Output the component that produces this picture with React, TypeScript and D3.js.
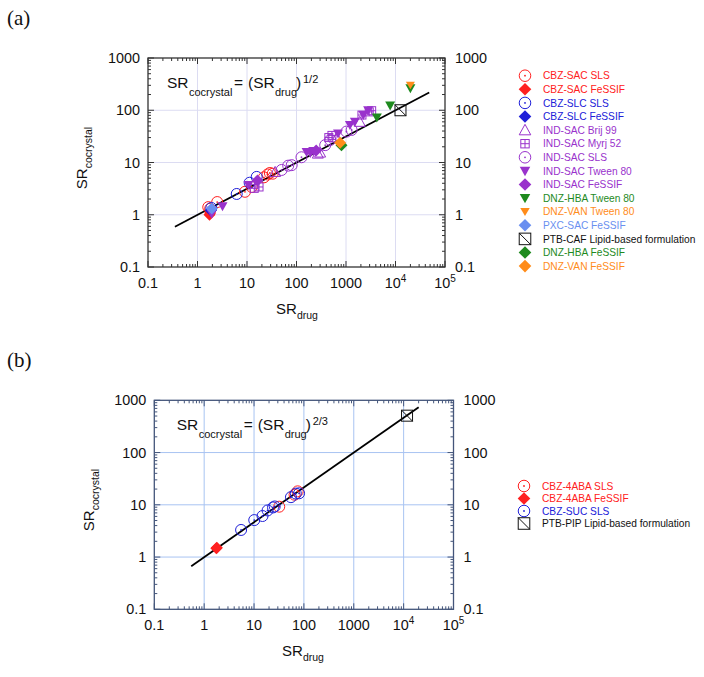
import React from 'react';
import * as d3 from 'd3';

type Pt = [number, number];

// ---------- Panel (a) data ----------
const cbzSacSlsA: Pt[] = [[1.65, 1.4], [1.8, 1.3], [2.5, 1.75], [9.1, 2.75], [12.5, 3.4], [22, 5.2], [26, 5.9], [29, 6.3], [33, 6.1]];
const cbzSacFessifA: Pt[] = [[1.75, 1.0], [1.8, 1.08]];
const cbzSlcSlsA: Pt[] = [[6.2, 2.5], [11.3, 4.1], [15.7, 5.3], [1.9, 1.35]];
const cbzSlcFessifA: Pt[] = [[1.85, 1.2]];
const indSacBrijA: Pt[] = [[37, 6.6], [270, 14.8], [300, 15.5], [650, 30], [1900, 60]];
const indSacMyrjA: Pt[] = [[14, 3.2], [17.5, 3.4], [450, 30], [520, 33], [2100, 81], [2950, 93], [3300, 98]];
const indSacSlsA: Pt[] = [[50, 7.2], [68, 8.7], [80, 8.9], [126, 12.6], [380, 21.5], [480, 27], [1020, 39], [1300, 42]];
const indSacTweenA: Pt[] = [[1.94, 1.05], [3.2, 1.46], [10.7, 3.7], [160, 15.8], [190, 15.2], [218, 16.6], [690, 36], [1200, 52], [1510, 60], [2240, 81], [2800, 100]];
const indSacFessifA: Pt[] = [[16.3, 4.5], [250, 17]];
const dnzHbaTweenA: Pt[] = [[4200, 73], [7800, 123], [20000, 263]];
const dnzVanTweenA: Pt[] = [[20000, 300]];
const pxcSacFessifA: Pt[] = [[1.94, 1.32]];
const ptbCafA: Pt[] = [[12600, 100]];
const dnzHbaFessifA: Pt[] = [[810, 21.5]];
const dnzVanFessifA: Pt[] = [[760, 24]];
const fitA: Pt[] = [[0.35, 0.59], [48000, 219]];

// ---------- Panel (b) data ----------
const cbz4abaSlsB: Pt[] = [[32, 9.2], [65, 15.6], [75, 18.1]];
const cbz4abaFessifB: Pt[] = [[1.75, 1.48], [1.8, 1.5]];
const cbzSucSlsB: Pt[] = [[5.5, 3.3], [10.1, 5.1], [14.8, 6.1], [18.7, 7.8], [24, 8.9], [26, 9.3], [55, 14], [69, 16.4], [80, 16.6]];
const ptbPipB: Pt[] = [[11700, 508]];
const fitB: Pt[] = [[0.55, 0.67], [20000, 737]];

// ---------- ticks ----------
const xTickValues = [0.1, 1, 10, 100, 1000, 1e4, 1e5];
const xTickLabels = ['0.1', '1', '10', '100', '1000', '10^4', '10^5'];
const yTickValues = [0.1, 1, 10, 100, 1000];
const yTickLabels = ['0.1', '1', '10', '100', '1000'];

const RED = '#ff2020';
const BLUE = '#2020d8';
const PURPLE = '#9932cc';
const GREEN = '#1e8a1e';
const ORANGE = '#ff8c1a';
const LBLUE = '#6a8ff0';
const BLACK = '#111';

type Series = { name: string; color: string; sym: string; pts: Pt[] };

const seriesA: Series[] = [
  { name: 'CBZ-SAC SLS', color: RED, sym: 'circ', pts: cbzSacSlsA },
  { name: 'CBZ-SAC FeSSIF', color: RED, sym: 'diam', pts: cbzSacFessifA },
  { name: 'CBZ-SLC SLS', color: BLUE, sym: 'circ', pts: cbzSlcSlsA },
  { name: 'CBZ-SLC FeSSIF', color: BLUE, sym: 'diam', pts: cbzSlcFessifA },
  { name: 'IND-SAC Brij 99', color: PURPLE, sym: 'tup', pts: indSacBrijA },
  { name: 'IND-SAC Myrj 52', color: PURPLE, sym: 'sqplus', pts: indSacMyrjA },
  { name: 'IND-SAC SLS', color: PURPLE, sym: 'circ', pts: indSacSlsA },
  { name: 'IND-SAC Tween 80', color: PURPLE, sym: 'tdown', pts: indSacTweenA },
  { name: 'IND-SAC FeSSIF', color: PURPLE, sym: 'diam', pts: indSacFessifA },
  { name: 'DNZ-HBA Tween 80', color: GREEN, sym: 'tdown', pts: dnzHbaTweenA },
  { name: 'DNZ-VAN Tween 80', color: ORANGE, sym: 'tdownS', pts: dnzVanTweenA },
  { name: 'PXC-SAC FeSSIF', color: LBLUE, sym: 'diam', pts: pxcSacFessifA },
  { name: 'PTB-CAF Lipid-based formulation', color: BLACK, sym: 'sqdiag', pts: ptbCafA },
  { name: 'DNZ-HBA FeSSIF', color: GREEN, sym: 'diam', pts: dnzHbaFessifA },
  { name: 'DNZ-VAN FeSSIF', color: ORANGE, sym: 'diam', pts: dnzVanFessifA },
];

const seriesB: Series[] = [
  { name: 'CBZ-4ABA SLS', color: RED, sym: 'circ', pts: cbz4abaSlsB },
  { name: 'CBZ-4ABA FeSSIF', color: RED, sym: 'diam', pts: cbz4abaFessifB },
  { name: 'CBZ-SUC SLS', color: BLUE, sym: 'circ', pts: cbzSucSlsB },
  { name: 'PTB-PIP Lipid-based formulation', color: BLACK, sym: 'sqdiag', pts: ptbPipB },
];

const FONT = 'Liberation Sans, Arial, Helvetica, sans-serif';

function Marker({ sym, x, y, color, s = 1 }: { sym: string; x: number; y: number; color: string; s?: number }) {
  switch (sym) {
    case 'circ':
      return (
        <g>
          <circle cx={x} cy={y} r={5.5 * s} fill="none" stroke={color} strokeWidth={1} />
          <circle cx={x} cy={y} r={0.9} fill={color} />
        </g>
      );
    case 'diam': {
      const h = 6 * s;
      return <polygon points={`${x},${y - h} ${x + h},${y} ${x},${y + h} ${x - h},${y}`} fill={color} />;
    }
    case 'tdown':
      return <polygon points={`${x - 5 * s},${y - 4 * s} ${x + 5 * s},${y - 4 * s} ${x},${y + 5 * s}`} fill={color} />;
    case 'tdownS':
      return <polygon points={`${x - 4.5 * s},${y - 3.5 * s} ${x + 4.5 * s},${y - 3.5 * s} ${x},${y + 4 * s}`} fill={color} />;
    case 'tup':
      return <polygon points={`${x},${y - 5.5 * s} ${x + 5.5 * s},${y + 4.5 * s} ${x - 5.5 * s},${y + 4.5 * s}`} fill="none" stroke={color} strokeWidth={1} />;
    case 'sqplus': {
      const h = 4 * s;
      return (
        <g stroke={color} strokeWidth={1} fill="none">
          <rect x={x - h} y={y - h} width={2 * h} height={2 * h} />
          <line x1={x - h} x2={x + h} y1={y} y2={y} />
          <line x1={x} x2={x} y1={y - h} y2={y + h} />
        </g>
      );
    }
    case 'sqdiag': {
      const h = 5.5 * s;
      return (
        <g stroke={color} strokeWidth={1} fill="none">
          <rect x={x - h} y={y - h} width={2 * h} height={2 * h} />
          <line x1={x - h} y1={y - h} x2={x + h} y2={y + h} />
        </g>
      );
    }
    default:
      return null;
  }
}

function TickLabel({ label, x, y, anchor }: { label: string; x: number; y: number; anchor: string }) {
  if (label.includes('^')) {
    const [b, e] = label.split('^');
    return (
      <text x={x} y={y} textAnchor={anchor as any} fontSize={14.4} fontFamily={FONT} fill="#111">
        {b}
        <tspan fontSize={10} dy={-6}>{e}</tspan>
      </text>
    );
  }
  return (
    <text x={x} y={y} textAnchor={anchor as any} fontSize={14.4} fontFamily={FONT} fill="#111">
      {label}
    </text>
  );
}

type PanelProps = {
  x0: number; x1: number; y0: number; y1: number;
  series: Series[]; fit: Pt[]; expo: string;
  gridColor: string; axisColor: string;
  eqX: number; eqY: number;
  legendX: number; legendY: number; legendStep: number;
  xLabelX: number; yLabelY: number; yLabelX: number;
};

function Panel(p: PanelProps) {
  const xs = d3.scaleLog().domain([0.1, 1e5]).range([p.x0, p.x1]);
  const ys = d3.scaleLog().domain([0.1, 1000]).range([p.y1, p.y0]);
  const line = d3.line<Pt>().x((d) => xs(d[0])).y((d) => ys(d[1]));

  const xMinor: number[] = [];
  for (let e = -1; e < 5; e++) for (let k = 2; k <= 9; k++) xMinor.push(k * Math.pow(10, e));
  const yMinor: number[] = [];
  for (let e = -1; e < 3; e++) for (let k = 2; k <= 9; k++) yMinor.push(k * Math.pow(10, e));
  const MAJ = 6, MIN = 3;
  const eqFs = 15.5, subFs = 11;

  return (
    <g>
      {/* grid */}
      {xTickValues.slice(1, -1).map((v) => (
        <line key={'gx' + v} x1={xs(v)} x2={xs(v)} y1={p.y0} y2={p.y1} stroke={p.gridColor} strokeWidth={1} />
      ))}
      {yTickValues.slice(1, -1).map((v) => (
        <line key={'gy' + v} x1={p.x0} x2={p.x1} y1={ys(v)} y2={ys(v)} stroke={p.gridColor} strokeWidth={1} />
      ))}
      {/* ticks */}
      <g stroke={p.axisColor} strokeWidth={1}>
        {xTickValues.map((v) => (
          <g key={'tx' + v}>
            <line x1={xs(v)} x2={xs(v)} y1={p.y1} y2={p.y1 - MAJ} />
            <line x1={xs(v)} x2={xs(v)} y1={p.y0} y2={p.y0 + MAJ} />
          </g>
        ))}
        {xMinor.map((v) => (
          <g key={'mx' + v}>
            <line x1={xs(v)} x2={xs(v)} y1={p.y1} y2={p.y1 - MIN} />
            <line x1={xs(v)} x2={xs(v)} y1={p.y0} y2={p.y0 + MIN} />
          </g>
        ))}
        {yTickValues.map((v) => (
          <g key={'ty' + v}>
            <line x1={p.x0} x2={p.x0 + MAJ} y1={ys(v)} y2={ys(v)} />
            <line x1={p.x1} x2={p.x1 - MAJ} y1={ys(v)} y2={ys(v)} />
          </g>
        ))}
        {yMinor.map((v) => (
          <g key={'my' + v}>
            <line x1={p.x0} x2={p.x0 + MIN} y1={ys(v)} y2={ys(v)} />
            <line x1={p.x1} x2={p.x1 - MIN} y1={ys(v)} y2={ys(v)} />
          </g>
        ))}
      </g>
      <rect x={p.x0} y={p.y0} width={p.x1 - p.x0} height={p.y1 - p.y0} fill="none" stroke={p.axisColor} strokeWidth={1.3} />
      {/* tick labels */}
      {xTickValues.map((v, i) => (
        <TickLabel key={'lx' + v} label={xTickLabels[i]} x={xs(v)} y={p.y1 + 21} anchor="middle" />
      ))}
      {yTickValues.map((v, i) => (
        <g key={'ly' + v}>
          <TickLabel label={yTickLabels[i]} x={p.x0 - 8} y={ys(v) + 5} anchor="end" />
          <TickLabel label={yTickLabels[i]} x={p.x1 + 10} y={ys(v) + 5} anchor="start" />
        </g>
      ))}
      {/* axis titles */}
      <text x={p.xLabelX} y={p.y1 + 47} textAnchor="middle" fontFamily={FONT} fontSize={15} fill="#111">
        SR<tspan fontSize={10.5} dy={5}>drug</tspan>
      </text>
      <text transform={`translate(${p.yLabelX},${p.yLabelY}) rotate(-90)`} textAnchor="middle" fontFamily={FONT} fontSize={15} fill="#111">
        SR<tspan fontSize={10.5} dy={5}>cocrystal</tspan>
      </text>
      {/* fit line */}
      <path d={line(p.fit) || ''} stroke="#000" strokeWidth={1.8} fill="none" />
      {/* points */}
      {p.series.map((s) => (
        <g key={s.name}>
          {s.pts.map((d, i) => (
            <Marker key={i} sym={s.sym} x={xs(d[0])} y={ys(d[1])} color={s.color} />
          ))}
        </g>
      ))}
      {/* equation */}
      <g fontFamily={FONT} fill="#111">
        <text x={p.eqX} y={p.eqY} fontSize={eqFs}>SR</text>
        <text x={p.eqX + 22} y={p.eqY + 8} fontSize={subFs}>cocrystal</text>
        <text x={p.eqX + 67} y={p.eqY} fontSize={eqFs}>=</text>
        <text x={p.eqX + 81} y={p.eqY} fontSize={eqFs}>(SR</text>
        <text x={p.eqX + 108} y={p.eqY + 8} fontSize={subFs}>drug</text>
        <text x={p.eqX + 129} y={p.eqY} fontSize={eqFs}>)</text>
        <text x={p.eqX + 136} y={p.eqY - 5} fontSize={subFs}>{p.expo}</text>
      </g>
      {/* legend */}
      {p.series.map((s, i) => {
        const cy = p.legendY + i * p.legendStep;
        return (
          <g key={'lg' + s.name}>
            <Marker sym={s.sym} x={p.legendX} y={cy} color={s.color} s={1.05} />
            <text x={p.legendX + 18} y={cy + 3.6} fontFamily={FONT} fontSize={10.2} fill={s.color}>
              {s.name}
            </text>
          </g>
        );
      })}
    </g>
  );
}

export default function App() {
  return (
    <svg width={704} height={677} style={{ position: 'absolute', left: 0, top: 0, background: '#fff' }}>
      <rect x={0} y={0} width={704} height={677} fill="#fff" />
      <text x={7} y={25} fontFamily="Liberation Serif, Times New Roman, serif" fontSize={21} fill="#111">(a)</text>
      <text x={7} y={367} fontFamily="Liberation Serif, Times New Roman, serif" fontSize={21} fill="#111">(b)</text>
      <Panel
        x0={148} x1={445} y0={58} y1={267}
        series={seriesA} fit={fitA} expo="1/2"
        gridColor="#dcdcf2" axisColor="#333"
        eqX={167} eqY={88}
        legendX={525} legendY={75.7} legendStep={13.6}
        xLabelX={297} yLabelX={87} yLabelY={158}
      />
      <Panel
        x0={154.3} x1={453.5} y0={400.3} y1={609.3}
        series={seriesB} fit={fitB} expo="2/3"
        gridColor="#a8c4f2" axisColor="#44557a"
        eqX={176.7} eqY={430}
        legendX={524} legendY={486} legendStep={12.5}
        xLabelX={303} yLabelX={94} yLabelY={500}
      />
    </svg>
  );
}
